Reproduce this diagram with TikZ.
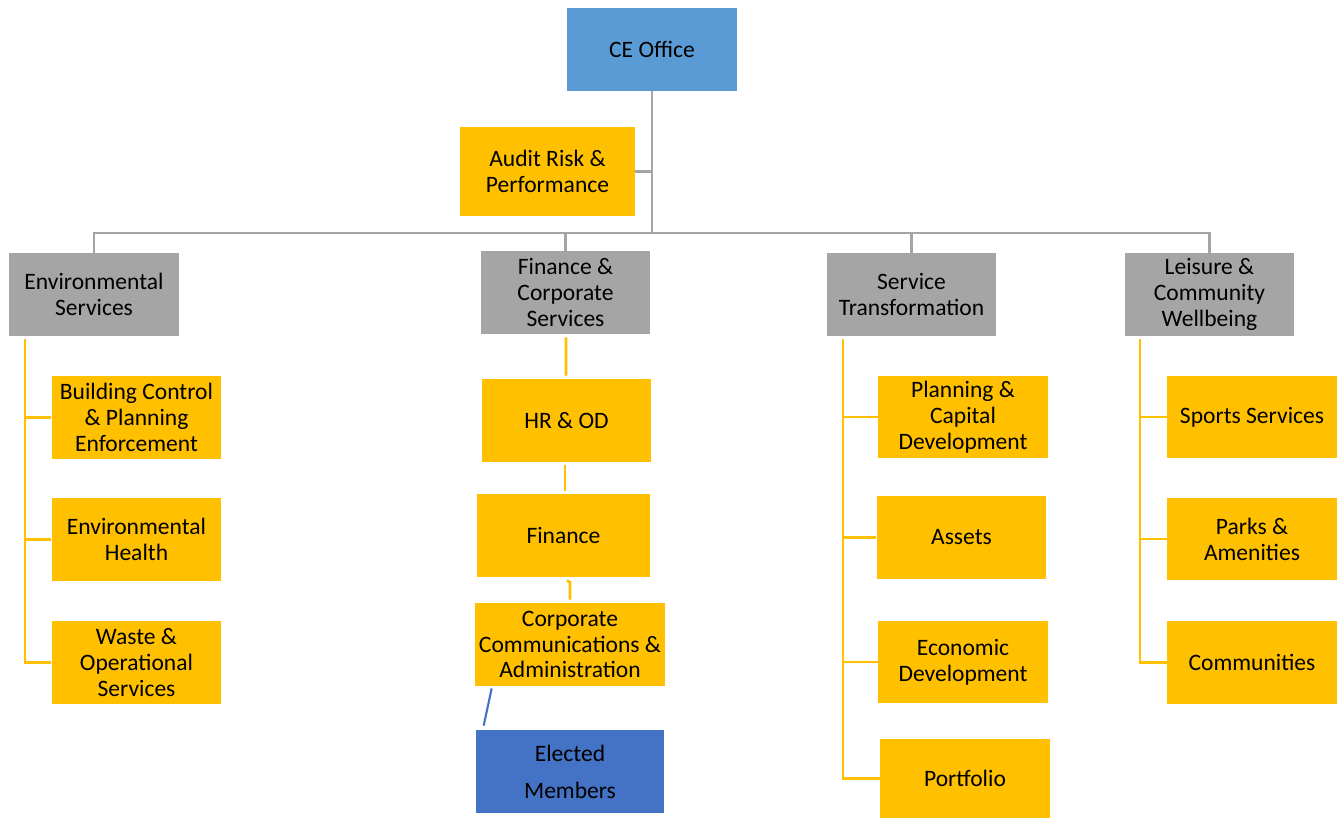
\documentclass[tikz,border=0pt]{standalone}
\usepackage{fontspec}
\setmainfont{Carlito}
\usepackage{xcolor}
\usepackage{tikz}
\usetikzlibrary{calc}
\definecolor{unitgold}{HTML}{FFC000}
\definecolor{unitgrey}{HTML}{A5A5A5}
\definecolor{ceblue}{HTML}{5B9BD5}
\definecolor{memberblue}{HTML}{4472C4}

\begin{document}
\begin{tikzpicture}[x=0.02cm,y=-0.02cm,
  unit/.style={inner sep=0pt,align=center,minimum width=3.4cm,minimum height=1.66cm,
    font=\fontsize{13.4}{14.7}\selectfont},
  gold/.style={unit,fill=unitgold},
  grey/.style={unit,fill=unitgrey},
  gline/.style={draw=unitgrey,line width=1.7pt},
  yline/.style={draw=unitgold,line width=1.5pt}]
  \useasboundingbox (0,0) rectangle (1343,818);
  % top
  \node[unit,fill=ceblue] (ce) at (652,49.5) {CE Office};
  \node[gold,minimum width=3.5cm,minimum height=1.78cm] (audit) at (547.5,171.5) {Audit Risk \&\\Performance};
  % directorates
  \node[grey] (env) at (94,294.5) {Environmental\\Services};
  \node[grey] (fin) at (565.5,292.5) {Finance \&\\Corporate\\Services};
  \node[grey] (serv) at (911.5,294.5) {Service\\Transformation};
  \node[grey] (leis) at (1209.5,294.5) {Leisure \&\\Community\\Wellbeing};
  % environmental
  \node[gold] (bc) at (136.5,417.5) {Building Control\\\& Planning\\Enforcement};
  \node[gold] (eh) at (136.5,539.5) {Environmental\\Health};
  \node[gold] (waste) at (136.5,662.5) {Waste \&\\Operational\\Services};
  % finance
  \node[gold] (hr) at (566.5,420.5) {HR \& OD};
  \node[gold,minimum width=3.46cm] (finn) at (563.5,535.5) {Finance};
  \node[gold,minimum width=3.8cm] (corp) at (570,644.5) {Corporate\\Communications \&\\Administration};
  \node[unit,fill=memberblue,minimum width=3.76cm] (elected) at (570,771.5) {Elected\\[6.3pt]Members};
  % service transformation
  \node[gold] (pcd) at (963,417) {Planning \&\\Capital\\Development};
  \node[gold] (assets) at (961.5,537.5) {Assets};
  \node[gold] (econ) at (963,662) {Economic\\Development};
  \node[gold,minimum height=1.58cm] (port) at (965,778.5) {Portfolio};
  % leisure
  \node[gold] (sports) at (1252,417) {Sports Services};
  \node[gold] (parks) at (1252,539) {Parks \&\\Amenities};
  \node[gold] (comm) at (1252,662.5) {Communities};

  % grey tree
  \coordinate (bus) at (652,233);
  \draw[gline] (ce.south) -- (bus);
  \draw[gline] (audit.east) -- (audit.east -| bus);
  \draw[gline] (env.north) -- (env.north |- bus) -- (leis.north |- bus) -- (leis.north);
  \foreach \d in {fin,serv} \draw[gline] (\d.north) -- (\d.north |- bus);

  % gold spines
  \coordinate (envspine) at (25,339);
  \coordinate (servspine) at (843,339);
  \coordinate (leisspine) at (1140,339);
  \draw[yline] (envspine) |- (waste.west);
  \foreach \c in {bc,eh} \draw[yline] (\c.west) -- (\c.west -| envspine);
  \draw[yline] (servspine) |- (port.west);
  \foreach \c in {pcd,assets,econ} \draw[yline] (\c.west) -- (\c.west -| servspine);
  \draw[yline] (leisspine) |- (comm.west);
  \foreach \c in {sports,parks} \draw[yline] (\c.west) -- (\c.west -| leisspine);

  \draw[yline] ($(fin.south)+(0.5,3)$) -- ($(hr.north)+(-0.5,-3)$);
  \draw[yline] ($(hr.south)+(-1.5,3)$) -- ($(hr.south |- finn.north)+(-1.5,-3)$);
  \draw[yline] ($(finn.south)+(3.5,3)$) -- ($(finn.south)+(6.5,5)$) -- ($(corp.north)+(0,-3)$);
  \draw[draw=memberblue,line width=1.2pt] ($(corp.south west)+(17,2)$) -- ($(elected.north west)+(8,-4)$);
\end{tikzpicture}
\end{document}
